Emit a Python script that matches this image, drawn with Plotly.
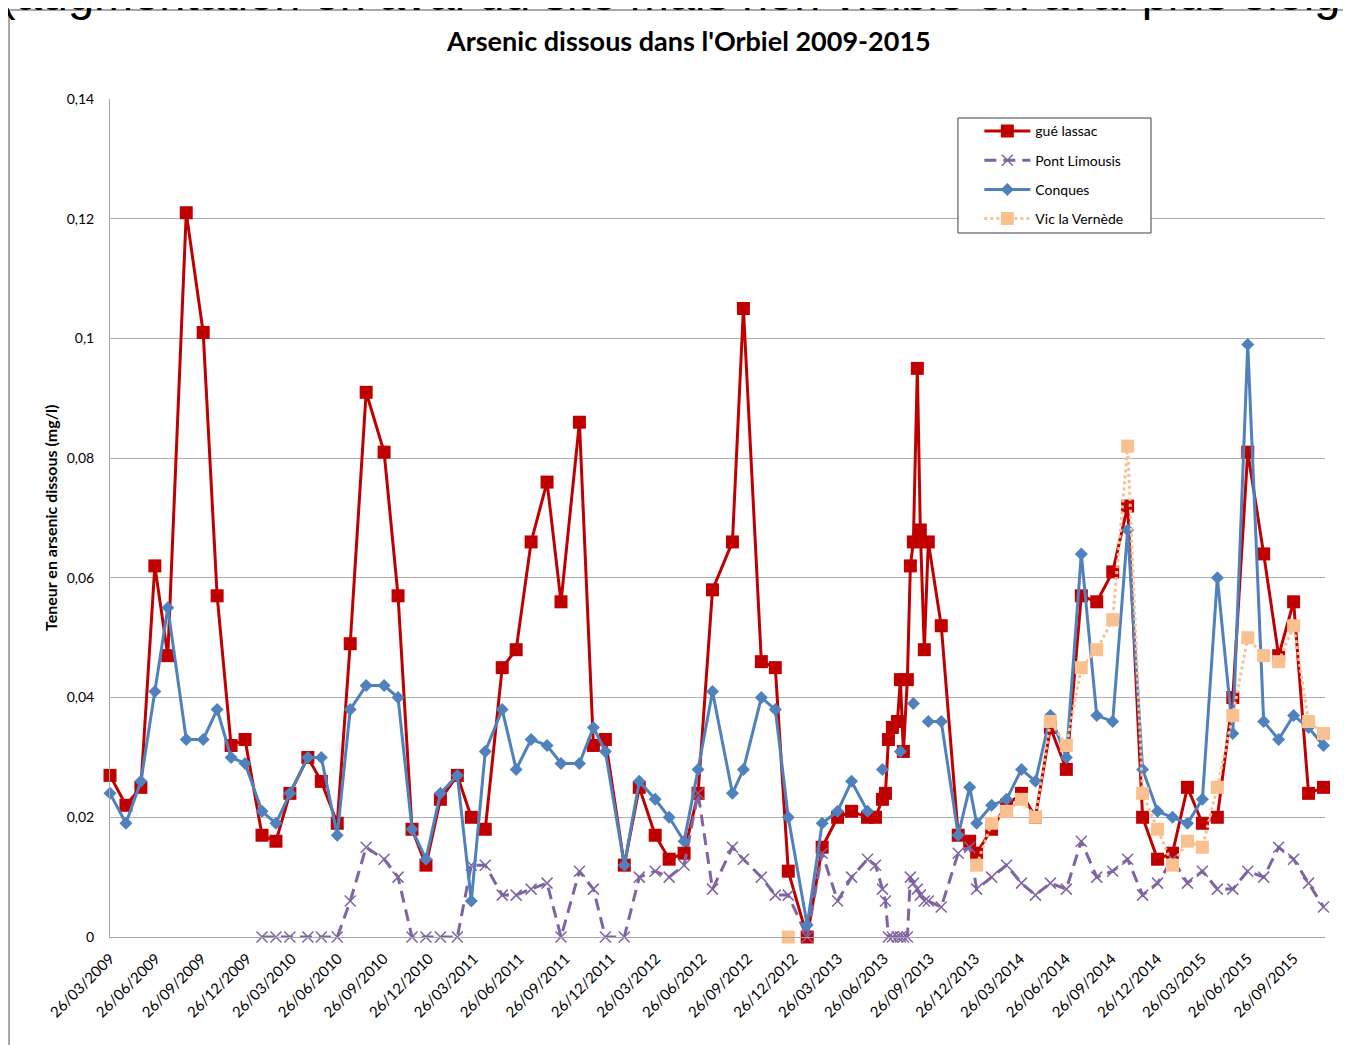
import plotly.graph_objects as go

dates = [
    "2009-03-26", "2009-04-27", "2009-05-27", "2009-06-24", "2009-07-20", "2009-08-26",
    "2009-09-29", "2009-10-27", "2009-11-24", "2009-12-22", "2010-01-25", "2010-02-22",
    "2010-03-22", "2010-04-27", "2010-05-24", "2010-06-25", "2010-07-21", "2010-08-22",
    "2010-09-27", "2010-10-25", "2010-11-22", "2010-12-20", "2011-01-18", "2011-02-21",
    "2011-03-21", "2011-04-18", "2011-05-22", "2011-06-19", "2011-07-19", "2011-08-20",
    "2011-09-17", "2011-10-24", "2011-11-21", "2011-12-15", "2012-01-22", "2012-02-21",
    "2012-03-24", "2012-04-21", "2012-05-21", "2012-06-18", "2012-07-17", "2012-08-26",
    "2012-09-17", "2012-10-23", "2012-11-20", "2012-12-16", "2013-01-23", "2013-02-22",
    "2013-03-25", "2013-04-22", "2013-05-24", "2013-06-09", "2013-06-23", "2013-06-29",
    "2013-07-05", "2013-07-13", "2013-07-23", "2013-07-29", "2013-08-04", "2013-08-12",
    "2013-08-18", "2013-08-24", "2013-09-01", "2013-09-07", "2013-09-15", "2013-09-23",
    "2013-10-19", "2013-11-22", "2013-12-15", "2013-12-29", "2014-01-28", "2014-02-27",
    "2014-03-29", "2014-04-26", "2014-05-26", "2014-06-27", "2014-07-27", "2014-08-27",
    "2014-09-28", "2014-10-28", "2014-11-27", "2014-12-27", "2015-01-26", "2015-02-25",
    "2015-03-27", "2015-04-26", "2015-05-27", "2015-06-26", "2015-07-28", "2015-08-27",
    "2015-09-26", "2015-10-26", "2015-11-25",
]

gue_lassac = [
    0.027, 0.022, 0.025, 0.062, 0.047, 0.121, 0.101, 0.057, 0.032, 0.033, 0.017, 0.016,
    0.024, 0.030, 0.026, 0.019, 0.049, 0.091, 0.081, 0.057, 0.018, 0.012, 0.023, 0.027,
    0.020, 0.018, 0.045, 0.048, 0.066, 0.076, 0.056, 0.086, 0.032, 0.033, 0.012, 0.025,
    0.017, 0.013, 0.014, 0.024, 0.058, 0.066, 0.105, 0.046, 0.045, 0.011, 0.000, 0.015,
    0.020, 0.021, 0.020, 0.020, 0.023, 0.024, 0.033, 0.035, 0.036, 0.043, 0.031, 0.043,
    0.062, 0.066, 0.095, 0.068, 0.048, 0.066, 0.052, 0.017, 0.016, 0.014, 0.018, 0.022,
    0.024, 0.020, 0.035, 0.028, 0.057, 0.056, 0.061, 0.072, 0.020, 0.013, 0.014, 0.025,
    0.019, 0.020, 0.040, 0.081, 0.064, 0.047, 0.056, 0.024, 0.025,
]

pont_limousis = [
    None, None, None, None, None, None, None, None, None, None, 0, 0,
    0, 0, 0, 0, 0.006, 0.015, 0.013, 0.010, 0, 0, 0, 0,
    0.012, 0.012, 0.007, 0.007, 0.008, 0.009, 0, 0.011, 0.008, 0, 0, 0.010,
    0.011, 0.010, 0.012, 0.024, 0.008, 0.015, 0.013, 0.010, 0.007, 0.007, 0, 0.014,
    0.006, 0.010, 0.013, 0.012, 0.008, 0.006, 0, 0, 0, 0, 0, 0,
    0.010, 0.009, 0.008, 0.007, 0.006, 0.006, 0.005, 0.014, 0.015, 0.008, 0.010, 0.012,
    0.009, 0.007, 0.009, 0.008, 0.016, 0.010, 0.011, 0.013, 0.007, 0.009, 0.013, 0.009,
    0.011, 0.008, 0.008, 0.011, 0.010, 0.015, 0.013, 0.009, 0.005,
]

conques = [
    0.024, 0.019, 0.026, 0.041, 0.055, 0.033, 0.033, 0.038, 0.030, 0.029, 0.021, 0.019,
    0.024, 0.030, 0.030, 0.017, 0.038, 0.042, 0.042, 0.040, 0.018, 0.013, 0.024, 0.027,
    0.006, 0.031, 0.038, 0.028, 0.033, 0.032, 0.029, 0.029, 0.035, 0.031, 0.012, 0.026,
    0.023, 0.020, 0.016, 0.028, 0.041, 0.024, 0.028, 0.040, 0.038, 0.020, 0.002, 0.019,
    0.021, 0.026, 0.021, None, 0.028, None, None, None, None, 0.031, None, None,
    None, 0.039, None, None, None, 0.036, 0.036, 0.017, 0.025, 0.019, 0.022, 0.023,
    0.028, 0.026, 0.037, 0.030, 0.064, 0.037, 0.036, 0.068, 0.028, 0.021, 0.020, 0.019,
    0.023, 0.060, 0.034, 0.099, 0.036, 0.033, 0.037, 0.035, 0.032,
]

vic_la_vernede = [
    None, None, None, None, None, None, None, None, None, None, None, None,
    None, None, None, None, None, None, None, None, None, None, None, None,
    None, None, None, None, None, None, None, None, None, None, None, None,
    None, None, None, None, None, None, None, None, None, 0.000, None, None,
    None, None, None, None, None, None, None, None, None, None, None, None,
    None, None, None, None, None, None, None, None, None, 0.012, 0.019, 0.021,
    0.023, 0.020, 0.036, 0.032, 0.045, 0.048, 0.053, 0.082, 0.024, 0.018, 0.012, 0.016,
    0.015, 0.025, 0.037, 0.050, 0.047, 0.046, 0.052, 0.036, 0.034,
]

y_ticks = [0, 0.02, 0.04, 0.06, 0.08, 0.1, 0.12, 0.14]
y_labels = ["0", "0,02", "0,04", "0,06", "0,08", "0,1", "0,12", "0,14"]

fig = go.Figure()

fig.add_trace(go.Scatter(
    x=dates, y=gue_lassac, name="gué lassac", legendgroup="a",
    mode="lines+markers", line=dict(color="#C00000", width=3),
    marker=dict(symbol="square", size=13, color="#C00000"),
    cliponaxis=False,
))
fig.add_trace(go.Scatter(
    x=dates, y=pont_limousis, name="Pont Limousis", legendgroup="b",
    mode="lines+markers", line=dict(color="#8064A2", width=3, dash="12px,7px"),
    marker=dict(symbol="x-thin", size=11, line=dict(color="#8064A2", width=1.5)),
    cliponaxis=False,
))
fig.add_trace(go.Scatter(
    x=dates, y=conques, name="Conques", legendgroup="c",
    mode="lines+markers", line=dict(color="#4F81BD", width=3),
    marker=dict(symbol="diamond", size=10, color="#4F81BD"),
    cliponaxis=False,
))
fig.add_trace(go.Scatter(
    x=dates, y=vic_la_vernede, name="Vic la Vernède", legendgroup="d",
    mode="lines+markers", line=dict(color="#FAC090", width=3, dash="dot"),
    marker=dict(symbol="square", size=13, color="#FAC090"),
    cliponaxis=False,
))

# texte coupé au-dessus du graphique
fig.add_annotation(
    text="(augmentation en aval du site mais non visible en aval plus éloigné)",
    xref="paper", yref="paper", x=-0.0922, y=1.0917, xanchor="left", yanchor="bottom",
    showarrow=False, font=dict(family="Liberation Sans", size=47, color="black"),
)
fig.add_annotation(
    text="<b>Arsenic dissous dans l'Orbiel 2009-2015</b>",
    xref="paper", yref="paper", x=0.4765, y=1.0704, xanchor="center", yanchor="middle",
    showarrow=False, font=dict(family="Lato", size=27, color="black"),
)
fig.add_annotation(
    text="<b>Teneur en arsenic dissous (mg/l)</b>",
    xref="paper", yref="paper", x=-0.0494, y=0.5, xanchor="center", yanchor="middle",
    textangle=-90, showarrow=False, font=dict(family="Lato", size=16, color="black"),
)

# cadre du graphique
fig.add_shape(
    type="rect", xref="paper", yref="paper", x0=-0.0831, y0=-0.3, x1=1.2, y1=1.1062,
    line=dict(color="#8C8C8C", width=1.5), fillcolor="rgba(0,0,0,0)", layer="below",
)
# cadre de la légende
fig.add_shape(
    type="rect", xref="paper", yref="paper", x0=0.6979, y0=0.8401, x1=0.8568, y1=0.9773,
    line=dict(color="#404040", width=1), fillcolor="white", layer="above",
)

fig.update_layout(
    width=1343, height=1037,
    margin=dict(l=102, r=26, t=91, b=108),
    paper_bgcolor="white", plot_bgcolor="white",
    font=dict(family="Lato", color="black"),
    showlegend=True,
    legend=dict(
        x=0.7155, y=0.9804, xanchor="left", yanchor="top",
        borderwidth=0, bgcolor="rgba(0,0,0,0)",
        font=dict(family="Lato", size=14), tracegroupgap=8, itemwidth=46,
    ),
    xaxis=dict(
        type="date", range=["2009-03-26", "2015-11-28"],
        tick0="2009-03-26", dtick="M3", tickformat="%d/%m/%Y", tickangle=-45,
        showgrid=False, showline=True, linecolor="#A6A6A6", linewidth=1,
        tickfont=dict(family="Lato", size=15), ticks="", zeroline=False,
        ticklabelstandoff=6,
    ),
    yaxis=dict(
        range=[0, 0.14], tickvals=y_ticks, ticktext=y_labels,
        showgrid=True, gridcolor="#B0B0B0", gridwidth=1,
        showline=True, linecolor="#A6A6A6", linewidth=1, zeroline=False,
        tickfont=dict(family="Lato", size=14), ticks="", ticklabelstandoff=12,
    ),
)

fig.write_html("out.html")
